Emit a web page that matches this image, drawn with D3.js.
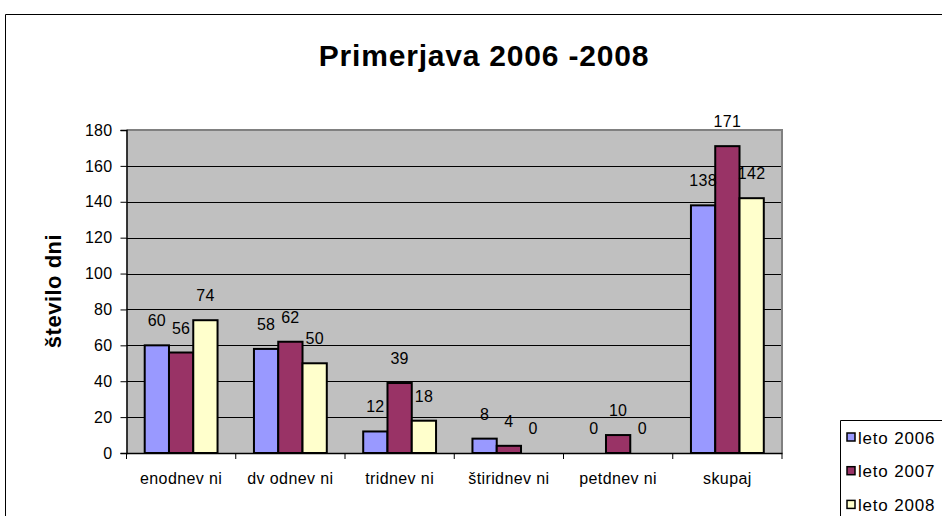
<!DOCTYPE html>
<html>
<head>
<meta charset="utf-8">
<script src="https://cdn.jsdelivr.net/npm/d3@7"></script>
<style>
  body { margin: 0; background: #fff; }
  svg { display: block; font-family: "Liberation Sans", Arial, sans-serif; }
</style>
</head>
<body>
<svg id="chart" width="942" height="516"></svg>
<script>
// chart data
var categories = ['enodnev ni', 'dv odnev ni', 'tridnev ni', 'štiridnev ni', 'petdnev ni', 'skupaj'];
var seriesNames = ['leto 2006', 'leto 2007', 'leto 2008'];
var leto2006 = [60, 58, 12, 8, 0, 138];
var leto2007 = [56, 62, 39, 4, 10, 171];
var leto2008 = [74, 50, 18, 0, 0, 142];
var yTicks = [0, 20, 40, 60, 80, 100, 120, 140, 160, 180];
var colors = ['#9999FF', '#993366', '#FFFFCC'];

var series = [leto2006, leto2007, leto2008];
var font = '"Liberation Sans", Arial, sans-serif';

var svg = d3.select('#chart');
var plot = { left: 126.5, right: 782, top: 130, bottom: 453 };

// outer chart border (runs off the page right and bottom)
svg.append('path')
    .attr('d', 'M5.5,530 V14.5 H950')
    .attr('fill', 'none')
    .attr('stroke', '#000')
    .attr('stroke-width', 1);

// title
svg.append('text')
    .attr('x', 484)
    .attr('y', 66)
    .attr('text-anchor', 'middle')
    .style('font-size', '30px')
    .style('font-weight', 'bold')
    .style('letter-spacing', '0.8px')
    .text('Primerjava 2006 -2008');

var x0 = d3.scaleBand()
    .domain(categories)
    .range([plot.left, plot.right]);

// gap width 150% like the spreadsheet default
var barW = x0.bandwidth() / 4.5;
var x1 = d3.scaleBand()
    .domain(d3.range(series.length))
    .range([barW * 0.75, barW * 0.75 + barW * 3]);

var y = d3.scaleLinear().domain([0, 180]).range([plot.bottom, plot.top]);

// plot background
svg.append('rect')
    .attr('x', plot.left)
    .attr('y', plot.top)
    .attr('width', plot.right - plot.left)
    .attr('height', plot.bottom - plot.top)
    .attr('fill', '#C0C0C0');

// gridlines
svg.append('g')
    .selectAll('line')
    .data(yTicks.filter(function (d) { return d > 0 && d < 180; }))
    .enter()
    .append('line')
    .attr('x1', plot.left)
    .attr('x2', plot.right)
    .attr('y1', function (d) { return Math.round(y(d)) + 0.5; })
    .attr('y2', function (d) { return Math.round(y(d)) + 0.5; })
    .attr('stroke', '#000')
    .attr('stroke-width', 1);

// gray frame at top and right
svg.append('path')
    .attr('d', 'M' + plot.left + ',' + plot.top + ' H' + plot.right + ' V' + plot.bottom)
    .attr('fill', 'none')
    .attr('stroke', '#808080')
    .attr('stroke-width', 2);

// bars
var groups = svg.append('g')
    .selectAll('g')
    .data(categories)
    .enter()
    .append('g')
    .attr('transform', function (d) { return 'translate(' + x0(d) + ',0)'; });

groups.selectAll('rect')
    .data(function (d, i) { return series.map(function (s, k) { return { k: k, v: s[i] }; }); })
    .enter()
    .append('rect')
    .attr('x', function (d) { return x1(d.k); })
    .attr('y', function (d) { return y(d.v); })
    .attr('width', x1.bandwidth())
    .attr('height', function (d) { return y(0) - y(d.v); })
    .attr('fill', function (d) { return colors[d.k]; })
    .attr('stroke', function (d) { return d.v > 0 ? '#000' : 'none'; })
    .attr('stroke-width', 2);

// data labels
groups.selectAll('text')
    .data(function (d, i) { return series.map(function (s, k) { return { k: k, v: s[i] }; }); })
    .enter()
    .append('text')
    .attr('x', function (d) { return x1(d.k) + x1.bandwidth() / 2; })
    .attr('y', function (d) { return y(d.v) - 19; })
    .attr('text-anchor', 'middle')
    .style('font-size', '16px')
    .style('letter-spacing', '0.3px')
    .text(function (d) { return d.v; });

// y axis
var yAxis = d3.axisLeft(y)
    .tickValues(yTicks)
    .tickSize(6)
    .tickPadding(8);

var gy = svg.append('g')
    .attr('transform', 'translate(' + plot.left + ',0)')
    .call(yAxis);
gy.select('.domain').attr('stroke', '#000').attr('stroke-width', 1.5);
gy.selectAll('.tick line').attr('stroke', '#000');
gy.selectAll('.tick text')
    .style('font-size', '16px')
    .style('font-family', font)
    .style('letter-spacing', '0.3px')
    .attr('fill', '#000');

// x axis
var xAxis = d3.axisBottom(x0).tickSize(0).tickPadding(20);
var gx = svg.append('g')
    .attr('transform', 'translate(0,' + plot.bottom + ')')
    .call(xAxis);
gx.select('.domain').attr('stroke', '#000').attr('stroke-width', 1.5);
gx.selectAll('.tick text')
    .style('font-size', '16px')
    .style('font-family', font)
    .style('letter-spacing', '0.4px')
    .attr('fill', '#000');

// category separator ticks
gx.selectAll('.sep')
    .data(categories.concat(['end']))
    .enter()
    .append('line')
    .attr('class', 'sep')
    .attr('x1', function (d, i) { return plot.left + i * x0.step(); })
    .attr('x2', function (d, i) { return plot.left + i * x0.step(); })
    .attr('y1', 0)
    .attr('y2', 6)
    .attr('stroke', '#000')
    .attr('stroke-width', 1);

// y axis title
svg.append('text')
    .attr('transform', 'translate(61,291) rotate(-90)')
    .attr('text-anchor', 'middle')
    .style('font-size', '22px')
    .style('font-weight', 'bold')
    .style('letter-spacing', '0.5px')
    .text('število dni');

// legend
var legend = svg.append('g').attr('transform', 'translate(840,420)');
legend.append('path')
    .attr('d', 'M0.5,110 V0.5 H120')
    .attr('fill', 'none')
    .attr('stroke', '#000');

var items = legend.selectAll('.item')
    .data(seriesNames)
    .enter()
    .append('g')
    .attr('class', 'item')
    .attr('transform', function (d, i) { return 'translate(0,' + (17.5 + i * 33.7) + ')'; });

items.append('rect')
    .attr('x', 7)
    .attr('y', -4.5)
    .attr('width', 8)
    .attr('height', 8)
    .attr('fill', function (d, i) { return colors[i]; })
    .attr('stroke', '#000')
    .attr('stroke-width', 1.5);

items.append('text')
    .attr('x', 18)
    .attr('y', 6)
    .style('font-size', '17px')
    .style('letter-spacing', '0.8px')
    .text(function (d) { return d; });
</script>
</body>
</html>
